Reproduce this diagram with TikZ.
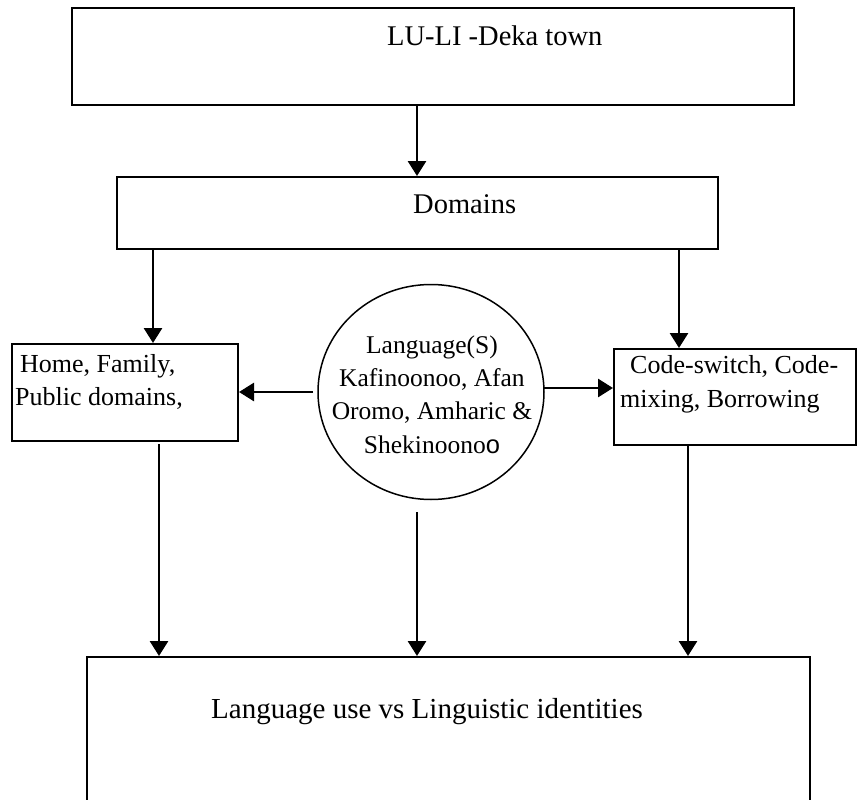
\documentclass[tikz,border=0pt]{standalone}
\usepackage{fontspec}
\setmainfont{Liberation Serif}
\newfontfamily\arialfont{Liberation Sans}
\usetikzlibrary{arrows.meta,shapes.geometric}
\begin{document}
\begin{tikzpicture}[x=1pt,y=-1pt,
  box/.style={draw, line width=2pt, inner sep=0pt, anchor=north west},
  arr/.style={line width=2.8pt, -{Triangle[width=18pt,length=15pt]}},
  lbl/.style={inner sep=0pt, anchor=base west},
  fA/.style={font=\fontsize{28.5}{33}\selectfont},
  fB/.style={font=\fontsize{26}{33}\selectfont},
  fC/.style={font=\fontsize{29}{34}\selectfont}]
\useasboundingbox (0,0) rectangle (857,800);
\clip (0,0) rectangle (857,800);
\fill[white] (0,0) rectangle (857,800);
% boxes
\node[box, minimum width=722pt, minimum height=97pt] (top) at (71,7) {};
\node[box, minimum width=601pt, minimum height=72pt] (dom) at (116,176) {};
\node[box, minimum width=226pt, minimum height=97pt] (home) at (11,343) {};
\node[box, minimum width=242pt, minimum height=96pt] (code) at (613,348) {};
\node[box, minimum width=723pt, minimum height=160pt] (bot) at (86,656) {};
\node[draw, ellipse, line width=1.5pt, inner sep=0pt, minimum width=226pt, minimum height=215pt] (lang) at (431,392) {};
% texts
\node[lbl, fA] (toptext) at (387,46) {LU-LI -Deka town};
\node[lbl, fA] (domtext) at (413,213) {Domains};
\node[lbl, fB] (home1) at (20,372) {Home, Family,};
\node[lbl, fB] (home2) at (15,405) {Public domains,};
\node[lbl, fB] (code1) at (630,373) {Code-switch, Code-};
\node[lbl, fB] (code2) at (620,407) {mixing, Borrowing};
\node[inner sep=0pt, anchor=base, align=center, font=\fontsize{25.5}{33.3}\selectfont] (langtext) at (432,453)
  {Language(S)\\Kafinoonoo, Afan\\Oromo, Amharic \&\\Shekinoono{\arialfont o}};
\node[lbl, fC] (bottext) at (211,718) {Language use vs Linguistic identities};
% connector anchors
\coordinate (xa) at (417,0);
\coordinate (xl) at (153,0);
\coordinate (xr) at (679,0);
\coordinate (lstart) at (313,392);
\coordinate (rstart) at (543,388);
\coordinate (hstart) at (159,444);
\coordinate (mstart) at (417,512);
\coordinate (cstart) at (688,444);
% connectors
\draw[arr] (top.south -| xa) -- (dom.north -| xa);
\draw[arr] (dom.south -| xl) -- (home.north -| xl);
\draw[arr] (dom.south -| xr) -- (code.north -| xr);
\draw[arr] (lstart) -- (home.east |- lstart);
\draw[arr] (rstart) -- (code.west |- rstart);
\draw[arr] (hstart) -- (bot.north -| hstart);
\draw[arr] (mstart) -- (bot.north -| mstart);
\draw[arr] (cstart) -- (bot.north -| cstart);
\end{tikzpicture}
\end{document}
